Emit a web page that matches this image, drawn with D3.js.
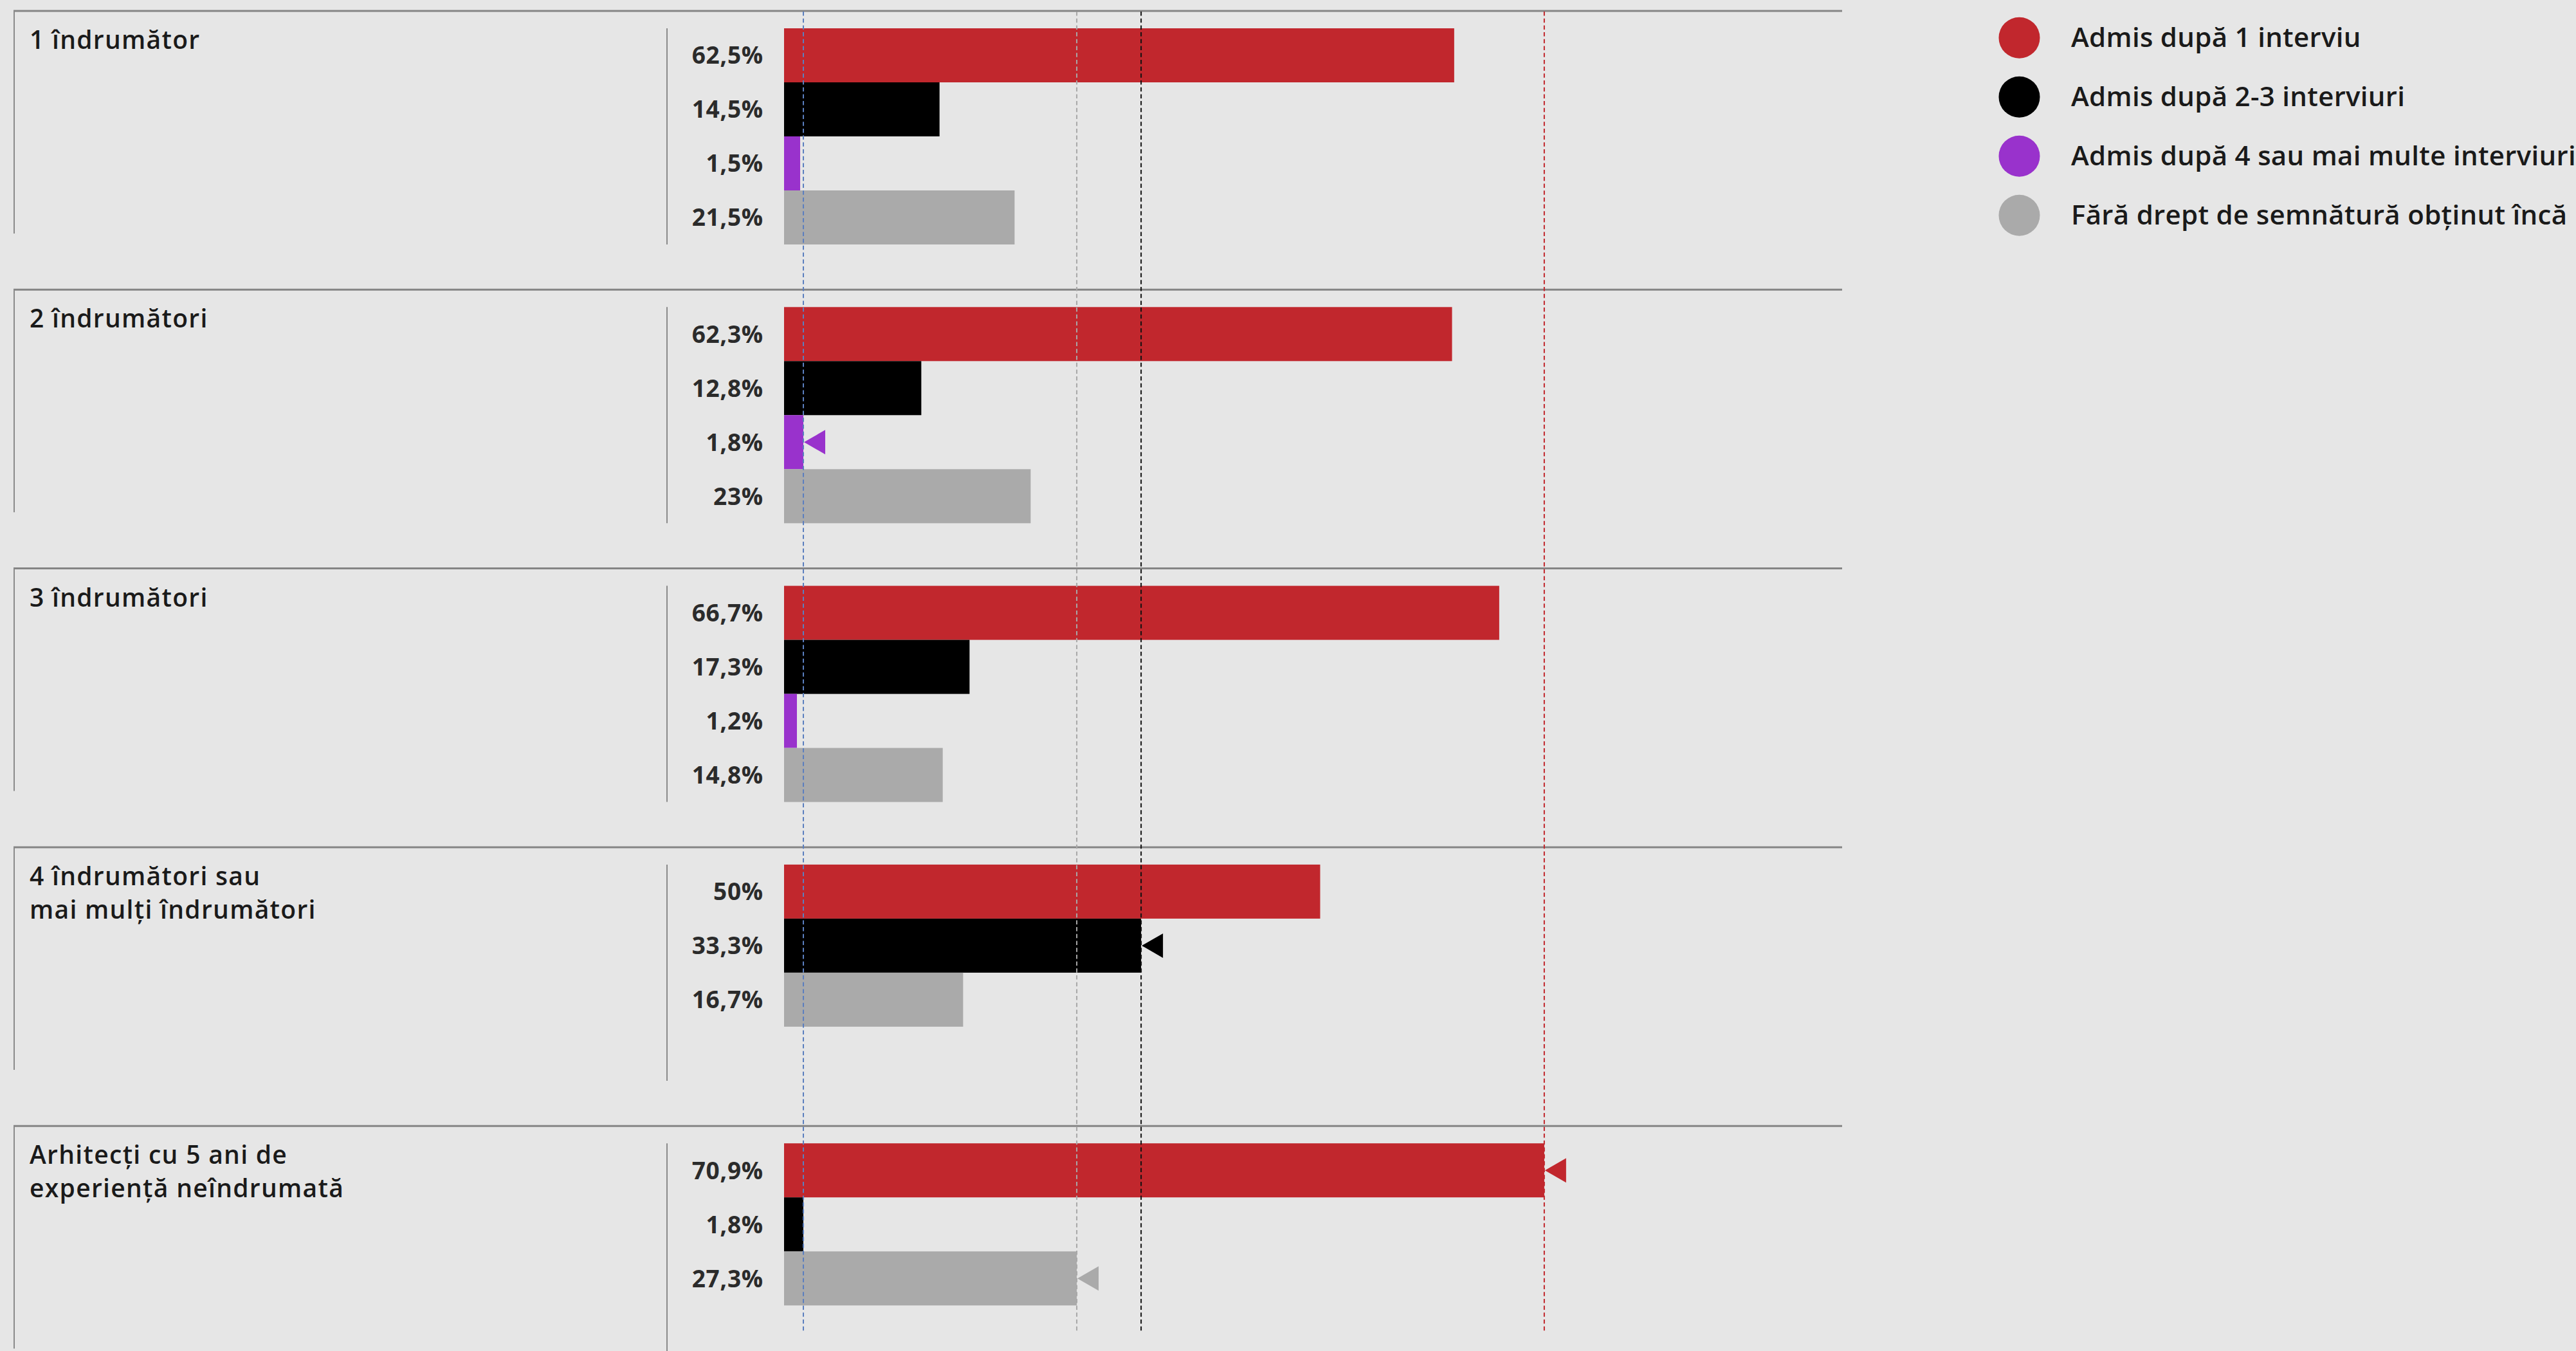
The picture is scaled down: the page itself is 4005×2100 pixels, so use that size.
<!DOCTYPE html>
<html>
<head>
<meta charset="utf-8">
<script src="https://cdn.jsdelivr.net/npm/d3@7"></script>
<style>
  html, body { margin: 0; padding: 0; background: #e6e6e6; }
  svg { display: block; }
</style>
</head>
<body>
<div id="chart"></div>
<script>
// ---------- DATA ----------
const categories = [
  "1 îndrumător",
  "2 îndrumători",
  "3 îndrumători",
  "4 îndrumători sau mai mulți îndrumători",
  "Arhitecți cu 5 ani de experiență neîndrumată"
];
const categoryLines = [
  ["1 îndrumător"],
  ["2 îndrumători"],
  ["3 îndrumători"],
  ["4 îndrumători sau", "mai mulți îndrumători"],
  ["Arhitecți cu 5 ani de", "experiență neîndrumată"]
];
const seriesNames = [
  "Admis după 1 interviu",
  "Admis după 2-3 interviuri",
  "Admis după 4 sau mai multe interviuri",
  "Fără drept de semnătură obținut încă"
];
const admis1 = [62.5, 62.3, 66.7, 50, 70.9];
const admis23 = [14.5, 12.8, 17.3, 33.3, 1.8];
const admis4 = [1.5, 1.8, 1.2, null, null];
const faraDrept = [21.5, 23, 14.8, 16.7, 27.3];

const seriesValues = [admis1, admis23, admis4, faraDrept];
const seriesColors = ["#c1272d", "#000000", "#9932cc", "#aaaaaa"];
const refLineColors = ["#c1272d", "#111111", "#5b7fbf", "#a8a8a8"];

// ---------- LAYOUT ----------
const W = 4005, H = 2100;
const svg = d3.select("#chart").append("svg")
  .attr("width", W).attr("height", H);
svg.append("rect").attr("width", W).attr("height", H).attr("fill", "#e6e6e6");

const FONT = "'Open Sans', 'DejaVu Sans', sans-serif";

const x = d3.scaleLinear().domain([0, 100]).range([1219, 2886]);
const sectionY = d3.scaleBand().domain(categories).range([17, 17 + 5 * 433.3]);
const barY = d3.scaleBand().domain([0, 1, 2, 3]).range([27, 363]).padding(0);

const fmt = v => (Number.isInteger(v) ? String(v) : d3.format(".1f")(v).replace(".", ",")) + "%";

// maximums per series
const maxes = seriesValues.map(arr => d3.max(arr.filter(v => v != null)));

const gSections = svg.append("g");
categories.forEach((cat, ci) => {
  const top = sectionY(cat);
  const g = gSections.append("g").attr("transform", `translate(0,${top})`);

  // borders
  g.append("line").attr("x1", 21).attr("x2", 2864).attr("y1", 0).attr("y2", 0)
    .attr("stroke", "#858585").attr("stroke-width", 3);
  g.append("line").attr("x1", 22).attr("x2", 22).attr("y1", 0).attr("y2", 346)
    .attr("stroke", "#8a8a8a").attr("stroke-width", 2);
  g.append("line").attr("x1", 1037).attr("x2", 1037).attr("y1", 27).attr("y2", 363)
    .attr("stroke", "#8a8a8a").attr("stroke-width", 2);

  // title
  const t = g.append("text").attr("x", 46).attr("y", 59)
    .attr("font-family", FONT).attr("font-size", 39).attr("font-weight", 600)
    .attr("letter-spacing", 1.3)
    .attr("fill", "#1a1a1a");
  categoryLines[ci].forEach((line, li) => {
    t.append("tspan").attr("x", 46).attr("dy", li === 0 ? 0 : 52).text(line);
  });

  // bars
  const rows = [];
  seriesValues.forEach((arr, si) => {
    if (arr[ci] != null) rows.push({ si, v: arr[ci] });
  });
  rows.forEach((r, ri) => {
    const y0 = barY(ri);
    g.append("rect")
      .attr("x", x(0)).attr("y", y0)
      .attr("width", x(r.v) - x(0)).attr("height", barY.bandwidth())
      .attr("fill", seriesColors[r.si]);
    g.append("text")
      .attr("x", 1187).attr("y", y0 + barY.bandwidth() / 2)
      .attr("dy", "0.36em").attr("text-anchor", "end")
      .attr("font-family", FONT).attr("font-size", 37).attr("font-weight", 700)
      .attr("letter-spacing", 0.8)
      .attr("fill", "#2b2b2b").text(fmt(r.v));
    if (r.v === maxes[r.si]) {
      const cx = x(r.v) + 1, cy = y0 + barY.bandwidth() / 2;
      g.append("path")
        .attr("d", `M${cx},${cy} L${cx + 33},${cy - 19} L${cx + 33},${cy + 19} Z`)
        .attr("fill", seriesColors[r.si]);
    }
  });
});

// reference dashed lines (drawn over bars)
const gRef = svg.append("g");
maxes.forEach((m, si) => {
  gRef.append("line")
    .attr("x1", x(m)).attr("x2", x(m)).attr("y1", 18).attr("y2", 2069)
    .attr("stroke", refLineColors[si]).attr("stroke-width", 2)
    .attr("stroke-dasharray", "6.5,4.2");
});

// legend
const legend = svg.append("g");
seriesNames.forEach((name, i) => {
  const cy = 58.7 + i * 92;
  legend.append("circle").attr("cx", 3139.5).attr("cy", cy).attr("r", 32)
    .attr("fill", seriesColors[i]);
  legend.append("text").attr("x", 3220).attr("y", cy + 14.5)
    .attr("font-family", FONT).attr("font-size", 42).attr("font-weight", 600)
    .attr("letter-spacing", 0.3)
    .attr("fill", "#1a1a1a").text(name);
});
</script>
</body>
</html>
